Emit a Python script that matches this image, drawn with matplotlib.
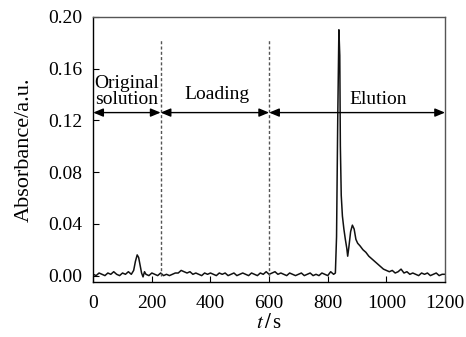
import matplotlib.pyplot as plt

plt.rcParams['font.family'] = ['Liberation Serif', 'DejaVu Serif']
plt.rcParams['mathtext.fontset'] = 'stix'

# absorbance trace (each time row matches the absorb row)
time = [0, 10, 20, 30, 40, 50, 60, 70, 80, 90, 100, 110, 120, 130,
        138, 144, 150, 155, 160, 165, 170, 175, 180, 190,
        200, 210, 220, 230, 240, 250, 260, 270, 280, 290,
        300, 310, 320, 330, 340, 350, 360, 370, 380, 390,
        400, 410, 420, 430, 440, 450, 460, 470, 480, 490,
        500, 510, 520, 530, 540, 550, 560, 570, 580, 590,
        600, 610, 620, 630, 640, 650, 660, 670, 680, 690,
        700, 710, 720, 730, 740, 750, 760, 770, 780, 790,
        800, 810, 820, 826, 830, 834, 838, 841, 843, 846,
        850, 855, 860, 865, 868, 872, 878, 884, 890, 896,
        902, 910, 920, 930, 940, 950, 960, 970, 980, 990,
        1000, 1010, 1020, 1030, 1040, 1050, 1060, 1070, 1080, 1090,
        1100, 1110, 1120, 1130, 1140, 1150, 1160, 1170, 1180, 1190,
        1200]
absorb = [0.001, 0.000, 0.002, 0.001, 0.000, 0.002, 0.001, 0.003, 0.001, 0.000, 0.002, 0.001, 0.003, 0.001,
          0.004, 0.011, 0.016, 0.014, 0.008, 0.002, -0.001, 0.003, 0.001, 0.000,
          0.002, 0.001, 0.000, 0.002, 0.000, 0.001, 0.000, 0.001, 0.002, 0.002,
          0.004, 0.003, 0.002, 0.003, 0.001, 0.002, 0.001, 0.000, 0.002, 0.001,
          0.002, 0.001, 0.000, 0.002, 0.001, 0.002, 0.000, 0.001, 0.002, 0.000,
          0.001, 0.002, 0.001, 0.000, 0.002, 0.001, 0.000, 0.002, 0.001, 0.003,
          0.001, 0.002, 0.003, 0.001, 0.002, 0.001, 0.000, 0.002, 0.001, 0.000,
          0.001, 0.002, 0.000, 0.001, 0.002, 0.000, 0.001, 0.000, 0.002, 0.001,
          0.000, 0.003, 0.001, 0.002, 0.030, 0.120, 0.190, 0.170, 0.100, 0.062,
          0.046, 0.036, 0.028, 0.021, 0.015, 0.022, 0.034, 0.039, 0.036, 0.028,
          0.025, 0.023, 0.020, 0.018, 0.015, 0.013, 0.011, 0.009, 0.007, 0.005,
          0.004, 0.003, 0.004, 0.002, 0.003, 0.005, 0.002, 0.003, 0.001, 0.002,
          0.001, 0.000, 0.002, 0.001, 0.002, 0.000, 0.001, 0.002, 0.000, 0.001,
          0.001]

stage_bounds = [0, 230, 600, 1200]
stage_names = ['Original\nsolution', 'Loading', 'Elution']
label_x = [115, 423, 971]
label_y = [0.1325, 0.1364, 0.1325]

fig = plt.figure(figsize=(4.66, 3.37), dpi=100)
ax = fig.add_axes([0.2, 0.163, 0.755, 0.787])

ax.plot(time, absorb, color='#111111', linewidth=1.1)

# stage separators
for xb in stage_bounds[1:-1]:
    ax.plot([xb, xb], [0, 0.183], color='#555555', linestyle=(0, (2.2, 1.6)), linewidth=1.0)

# double headed arrows for each stage
arrow_y = 0.126
for i in range(len(stage_names)):
    ax.annotate('', xy=(stage_bounds[i], arrow_y), xytext=(stage_bounds[i + 1], arrow_y),
                arrowprops=dict(arrowstyle='<|-|>,head_length=0.6,head_width=0.25',
                                color='black', lw=1.0,
                                mutation_scale=10, shrinkA=0, shrinkB=0))
    ax.text(label_x[i], label_y[i], stage_names[i], ha='center', va='baseline',
            fontsize=14, linespacing=0.9)

ax.set_xlim(0, 1200)
ax.set_ylim(-0.005, 0.2)
ax.set_xticks([0, 200, 400, 600, 800, 1000, 1200])
ax.set_yticks([0.0, 0.04, 0.08, 0.12, 0.16, 0.20])
ax.set_yticklabels(['0.00', '0.04', '0.08', '0.12', '0.16', '0.20'])
ax.tick_params(direction='in', length=4, labelsize=14)
ax.tick_params(axis='y', pad=8)
ax.tick_params(axis='x', pad=9)

for side in ['top', 'right']:
    ax.spines[side].set_color('#555555')
for spine in ax.spines.values():
    spine.set_linewidth(1.0)

ax.set_xlabel(r'$t\,/\,$s', fontsize=15, labelpad=2)
ax.set_ylabel('Absorbance/a.u.', fontsize=16, labelpad=10)

plt.savefig('out.png', dpi=100)
